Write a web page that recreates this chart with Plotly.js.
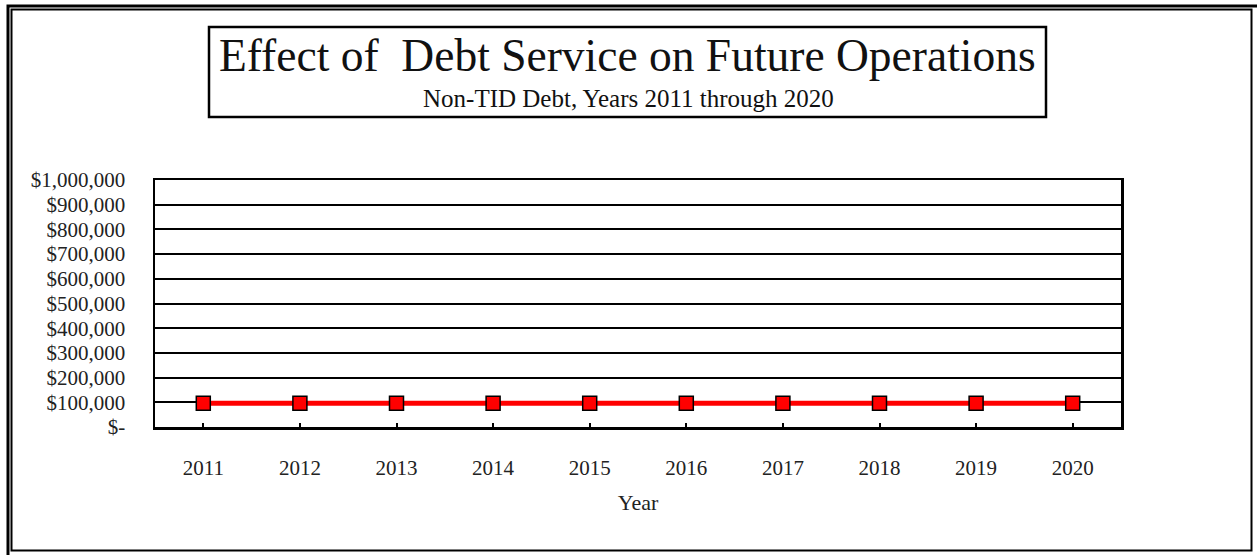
<!DOCTYPE html>
<html>
<head>
<meta charset="utf-8">
<script src="https://cdn.plot.ly/plotly-3.0.1.min.js"></script>
<style>
  html, body { margin: 0; padding: 0; background: #fff; }
  #chart { width: 1257px; height: 555px; }
</style>
</head>
<body>
<div id="chart"></div>
<script>
const years = ['2011','2012','2013','2014','2015','2016','2017','2018','2019','2020'];
const debtService = [96000, 96000, 96000, 96000, 96000, 96000, 96000, 96000, 96000, 96000];
const yTickVals = [0, 100000, 200000, 300000, 400000, 500000, 600000, 700000, 800000, 900000, 1000000];
const yTickText = ['$-', '$100,000', '$200,000', '$300,000', '$400,000', '$500,000', '$600,000', '$700,000', '$800,000', '$900,000', '$1,000,000'];
const titleText = 'Effect of  Debt Service on Future Operations';
const subtitleText = 'Non-TID Debt, Years 2011 through 2020';
const xTitleText = 'Year';

// plot area in pixels
const L = 155, R = 1121, T = 180, B = 427;
const W = 1257, H = 555;
const px = x => (x - L) / (R - L);
const py = y => (B - y) / (B - T);

const FONT = 'Liberation Serif, Times New Roman, serif';

const trace = {
  x: years,
  y: debtService,
  type: 'scatter',
  mode: 'lines+markers',
  line: { color: '#ff0000', width: 5 },
  marker: { symbol: 'square', size: 14, color: '#ff0000', line: { color: '#000', width: 1.5 } },
  cliponaxis: false,
  hoverinfo: 'x+y'
};

const layout = {
  width: W, height: H,
  margin: { l: L, r: W - R, t: T, b: H - B, pad: 0 },
  paper_bgcolor: '#fff',
  plot_bgcolor: '#fff',
  showlegend: false,
  font: { family: FONT, color: '#222', size: 21 },
  xaxis: {
    type: 'category',
    range: [-0.5, 9.5],
    showgrid: false,
    zeroline: false,
    showline: true, mirror: true, linecolor: '#000', linewidth: 2.5,
    ticks: 'inside', ticklen: 4, tickwidth: 2, tickcolor: '#000',
    ticklabelstandoff: 20,
    tickfont: { family: FONT, size: 21, color: '#222' },
    title: { text: xTitleText, font: { family: FONT, size: 22, color: '#222' }, standoff: 16 }
  },
  yaxis: {
    range: [0, 1000000],
    tickvals: yTickVals,
    ticktext: yTickText,
    showgrid: true, gridcolor: '#000', gridwidth: 2,
    zeroline: false,
    showline: true, mirror: true, linecolor: '#000', linewidth: 2.5,
    ticks: '',
    ticklabelstandoff: 23,
    tickfont: { family: FONT, size: 21, color: '#222' }
  },
  shapes: [
    // outer double border
    { type: 'rect', xref: 'paper', yref: 'paper', x0: px(8), x1: px(1262), y0: py(560), y1: py(6), line: { color: '#000', width: 3 } },
    { type: 'rect', xref: 'paper', yref: 'paper', x0: px(11.5), x1: px(1251.5), y0: py(550.5), y1: py(9.5), line: { color: '#000', width: 2 } },
    // title box
    { type: 'rect', xref: 'paper', yref: 'paper', x0: px(209), x1: px(1046), y0: py(117), y1: py(27), line: { color: '#000', width: 2.5 } }
  ],
  annotations: [
    { text: titleText, xref: 'paper', yref: 'paper', x: px(627.5), y: py(56), xanchor: 'center', yanchor: 'middle', showarrow: false,
      font: { family: FONT, size: 45.5, color: '#111' } },
    { text: subtitleText, xref: 'paper', yref: 'paper', x: px(628), y: py(99), xanchor: 'center', yanchor: 'middle', showarrow: false,
      font: { family: FONT, size: 25, color: '#111' } }
  ]
};

Plotly.newPlot('chart', [trace], layout, { displayModeBar: false, staticPlot: true });
</script>
</body>
</html>
